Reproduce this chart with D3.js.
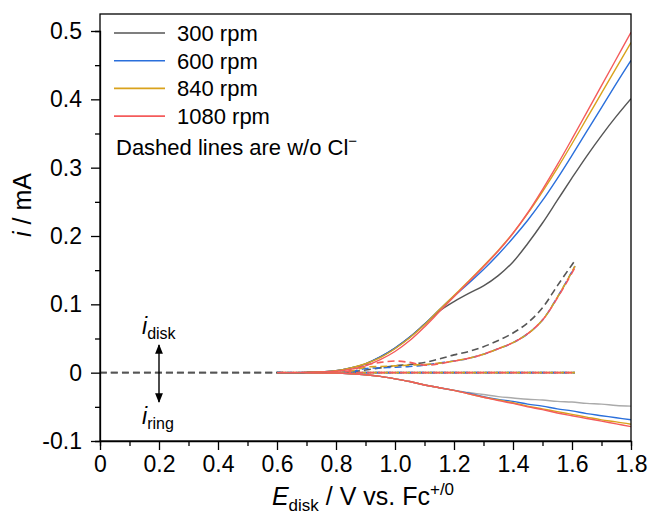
<!DOCTYPE html>
<html>
<head>
<meta charset="utf-8" />
<title>RRDE i vs E</title>
<script src="https://cdn.jsdelivr.net/npm/d3@7"></script>
<style>
  body { margin: 0; background: #fff; }
  svg { font-family: "Liberation Sans", Arial, sans-serif; }
  .axis text { font-size: 23px; fill: #000; }
  .axis path, .axis line { stroke: #000; stroke-width: 1.3; }
</style>
</head>
<body>
<script>
// rotation rates and colours
var rpm = ["300 rpm", "600 rpm", "840 rpm", "1080 rpm"];
var colors = ["#555555", "#2a6fdb", "#d9a21c", "#f45b5b"];
var ringColors = ["#aaaaaa", "#2a6fdb", "#d9a21c", "#f45b5b"];

// potential grids (V vs Fc+/0)
var E_solid = [0.6, 0.7, 0.8, 0.85, 0.9, 0.95, 1.0, 1.05, 1.1, 1.15, 1.2, 1.25, 1.3, 1.35, 1.4, 1.45, 1.5, 1.55, 1.6, 1.65, 1.7, 1.75, 1.8];
var E_dash = [0, 0.6, 0.8, 0.85, 0.9, 0.95, 1.0, 1.05, 1.1, 1.15, 1.2, 1.25, 1.3, 1.35, 1.4, 1.45, 1.5, 1.55, 1.6, 1.61];

// disk current, with Cl- (mA)
var disk300  = [0, 0.0005, 0.003, 0.007, 0.013, 0.023, 0.036, 0.052, 0.071, 0.090, 0.104, 0.116, 0.127, 0.142, 0.162, 0.189, 0.219, 0.252, 0.285, 0.317, 0.347, 0.375, 0.401];
var disk600  = [0, 0.0005, 0.003, 0.007, 0.013, 0.023, 0.036, 0.052, 0.071, 0.092, 0.112, 0.131, 0.151, 0.173, 0.197, 0.223, 0.252, 0.284, 0.318, 0.353, 0.388, 0.423, 0.457];
var disk840  = [0, 0.0005, 0.003, 0.007, 0.013, 0.022, 0.035, 0.051, 0.070, 0.092, 0.113, 0.134, 0.156, 0.179, 0.204, 0.233, 0.265, 0.299, 0.335, 0.372, 0.409, 0.446, 0.483];
var disk1080 = [0, 0.0005, 0.002, 0.005, 0.010, 0.019, 0.031, 0.047, 0.067, 0.089, 0.111, 0.133, 0.155, 0.178, 0.204, 0.234, 0.268, 0.304, 0.342, 0.381, 0.420, 0.459, 0.498];

// ring current, with Cl- (mA)
var ring300  = [0, 0, -0.0005, -0.0015, -0.003, -0.0055, -0.009, -0.013, -0.018, -0.022, -0.026, -0.029, -0.032, -0.035, -0.037, -0.039, -0.040, -0.042, -0.043, -0.045, -0.046, -0.048, -0.049];
var ring600  = [0, 0, -0.0005, -0.0015, -0.003, -0.0055, -0.009, -0.013, -0.018, -0.022, -0.026, -0.030, -0.035, -0.039, -0.042, -0.046, -0.049, -0.053, -0.056, -0.060, -0.063, -0.066, -0.069];
var ring840  = [0, 0, -0.0005, -0.0015, -0.003, -0.0055, -0.009, -0.013, -0.018, -0.022, -0.026, -0.031, -0.036, -0.040, -0.044, -0.049, -0.053, -0.057, -0.061, -0.065, -0.069, -0.072, -0.0755];
var ring1080 = [0, 0, -0.0005, -0.0015, -0.003, -0.0055, -0.009, -0.013, -0.018, -0.022, -0.026, -0.031, -0.036, -0.041, -0.045, -0.050, -0.054, -0.059, -0.063, -0.067, -0.071, -0.075, -0.079];

// disk current, without Cl- (dashed)
var diskNo300  = [0, 0, 0, 0.001, 0.004, 0.007, 0.010, 0.012, 0.015, 0.020, 0.026, 0.031, 0.038, 0.047, 0.058, 0.073, 0.095, 0.127, 0.158, 0.164];
var diskNo600  = [0, 0, 0, 0.001, 0.006, 0.007, 0.008, 0.009, 0.011, 0.014, 0.017, 0.021, 0.027, 0.035, 0.044, 0.057, 0.077, 0.110, 0.148, 0.156];
var diskNo840  = [0, 0, 0, 0.002, 0.008, 0.009, 0.010, 0.011, 0.012, 0.014, 0.017, 0.021, 0.027, 0.035, 0.044, 0.057, 0.077, 0.110, 0.148, 0.156];
var diskNo1080 = [0, 0, 0, 0.003, 0.011, 0.015, 0.017, 0.015, 0.011, 0.013, 0.017, 0.021, 0.027, 0.035, 0.044, 0.057, 0.077, 0.109, 0.146, 0.154];

// ring current, without Cl- (dashed), flat
var ringNo = [0, 0, 0, 0, 0, 0, 0, 0, 0, 0, 0, 0, 0, 0, 0, 0, 0, 0, 0, 0];

var xTicks = [0, 0.2, 0.4, 0.6, 0.8, 1.0, 1.2, 1.4, 1.6, 1.8];
var yTicks = [-0.1, 0, 0.1, 0.2, 0.3, 0.4, 0.5];

var disk = [disk300, disk600, disk840, disk1080];
var ring = [ring300, ring600, ring840, ring1080];
var diskNo = [diskNo300, diskNo600, diskNo840, diskNo1080];

var W = 649, H = 518;
var mL = 100, mR = 631, mT = 14, mB = 441;

var svg = d3.select("body").append("svg")
    .attr("width", W)
    .attr("height", H);

var x = d3.scaleLinear().domain([0, 1.8]).range([mL, mR]);
var y = d3.scaleLinear().domain([-0.1, 0.5]).range([mB, 31]);

// clip to the frame
svg.append("clipPath").attr("id", "clip")
  .append("rect").attr("x", mL).attr("y", mT).attr("width", mR - mL).attr("height", mB - mT);

var plot = svg.append("g").attr("clip-path", "url(#clip)");

// only the 300 rpm dashed trace runs from 0 V, the others start near 0.6 V
function pts(E, I, from) {
  return E.map(function(e, k) { return [e, I[k]]; })
          .filter(function(d) { return d[0] >= from; });
}
var line = d3.line()
  .x(function(d) { return x(d[0]); })
  .y(function(d) { return y(d[1]); })
  .curve(d3.curveCatmullRom.alpha(0.5));

// dashed lines first (w/o Cl-)
for (var k = 0; k < 4; k++) {
  plot.append("path")
    .attr("d", line(pts(E_dash, ringNo, k === 0 ? 0 : 0.6)))
    .attr("fill", "none").attr("stroke", k === 0 ? "#666" : colors[k]).attr("stroke-width", 1.6)
    .attr("stroke-dasharray", "7,4").attr("stroke-dashoffset", k * 3);
}
for (var k = 0; k < 4; k++) {
  plot.append("path")
    .attr("d", line(pts(E_dash, diskNo[k], k === 0 ? 0 : 0.6)))
    .attr("fill", "none").attr("stroke", colors[k]).attr("stroke-width", 1.6)
    .attr("stroke-dasharray", "7,4").attr("stroke-dashoffset", k * 3);
}
// solid lines (with Cl-)
for (var k = 0; k < 4; k++) {
  plot.append("path")
    .attr("d", line(pts(E_solid, ring[k], 0)))
    .attr("fill", "none").attr("stroke", ringColors[k]).attr("stroke-width", 1.4);
}
for (var k = 0; k < 4; k++) {
  plot.append("path")
    .attr("d", line(pts(E_solid, disk[k], 0)))
    .attr("fill", "none").attr("stroke", colors[k]).attr("stroke-width", 1.4);
}

// frame
svg.append("rect")
  .attr("x", mL).attr("y", mT).attr("width", mR - mL).attr("height", mB - mT)
  .attr("fill", "none").attr("stroke", "#000").attr("stroke-width", 1.3);

// axes with minor ticks
var fmt = function(d) { return d === 0 ? "0" : d3.format(".1f")(d).replace("\u2212", "-"); };

svg.append("g").attr("class", "axis")
  .attr("transform", "translate(0," + mB + ")")
  .call(d3.axisBottom(x).tickValues(d3.range(0.1, 1.8, 0.2)).tickSize(5).tickFormat(""));
svg.append("g").attr("class", "axis")
  .attr("transform", "translate(0," + mB + ")")
  .call(d3.axisBottom(x).tickValues(xTicks).tickSize(9).tickPadding(6).tickFormat(fmt))
  .call(function(g) { g.select(".domain").remove(); });

svg.append("g").attr("class", "axis")
  .attr("transform", "translate(" + mL + ",0)")
  .call(d3.axisLeft(y).tickValues(d3.range(-0.05, 0.5, 0.1)).tickSize(5).tickFormat(""));
svg.append("g").attr("class", "axis")
  .attr("transform", "translate(" + mL + ",0)")
  .call(d3.axisLeft(y).tickValues(yTicks).tickSize(9).tickPadding(9).tickFormat(fmt))
  .call(function(g) { g.select(".domain").remove(); });

// axis titles
var xl = svg.append("text")
  .attr("x", 363).attr("y", 505)
  .attr("text-anchor", "middle")
  .style("font-size", "25px");
xl.append("tspan").style("font-style", "italic").text("E");
xl.append("tspan").attr("dy", 6).style("font-size", "17px").text("disk");
xl.append("tspan").attr("dy", -6).text(" / V vs. Fc");
xl.append("tspan").attr("dy", -10).style("font-size", "17px").text("+/0");

var yl = svg.append("text")
  .attr("transform", "translate(31,205)rotate(-90)")
  .attr("text-anchor", "middle")
  .style("font-size", "25px");
yl.append("tspan").style("font-style", "italic").text("i");
yl.append("tspan").text(" / mA");

// legend
var leg = svg.append("g");
rpm.forEach(function(r, k) {
  var ly = 33 + k * 27.7;
  leg.append("line")
    .attr("x1", 114).attr("x2", 165).attr("y1", ly).attr("y2", ly)
    .attr("stroke", colors[k]).attr("stroke-width", 1.6);
  leg.append("text")
    .attr("x", 177).attr("y", ly + 8)
    .style("font-size", "22px").text(r);
});
var note = leg.append("text").attr("x", 116).attr("y", 155).style("font-size", "22px");
note.append("tspan").text("Dashed lines are w/o Cl");
note.append("tspan").attr("dy", -9).style("font-size", "15px").text("\u2212");

// i_disk / i_ring arrows
svg.append("defs").append("marker")
  .attr("id", "arr").attr("viewBox", "0 0 10 10")
  .attr("refX", 9).attr("refY", 5)
  .attr("markerWidth", 7).attr("markerHeight", 7)
  .attr("orient", "auto-start-reverse")
  .append("path").attr("d", "M0,1 L10,5 L0,9 Z").attr("fill", "#000");

svg.append("line")
  .attr("x1", x(0.2)).attr("x2", x(0.2)).attr("y1", 345).attr("y2", 402)
  .attr("stroke", "#000").attr("stroke-width", 1.4)
  .attr("marker-start", "url(#arr)").attr("marker-end", "url(#arr)");

var td = svg.append("text").attr("x", 142).attr("y", 334).style("font-size", "23px");
td.append("tspan").style("font-style", "italic").text("i");
td.append("tspan").attr("dy", 5).style("font-size", "16px").text("disk");

var tr = svg.append("text").attr("x", 142).attr("y", 424).style("font-size", "23px");
tr.append("tspan").style("font-style", "italic").text("i");
tr.append("tspan").attr("dy", 5).style("font-size", "16px").text("ring");
</script>
</body>
</html>
